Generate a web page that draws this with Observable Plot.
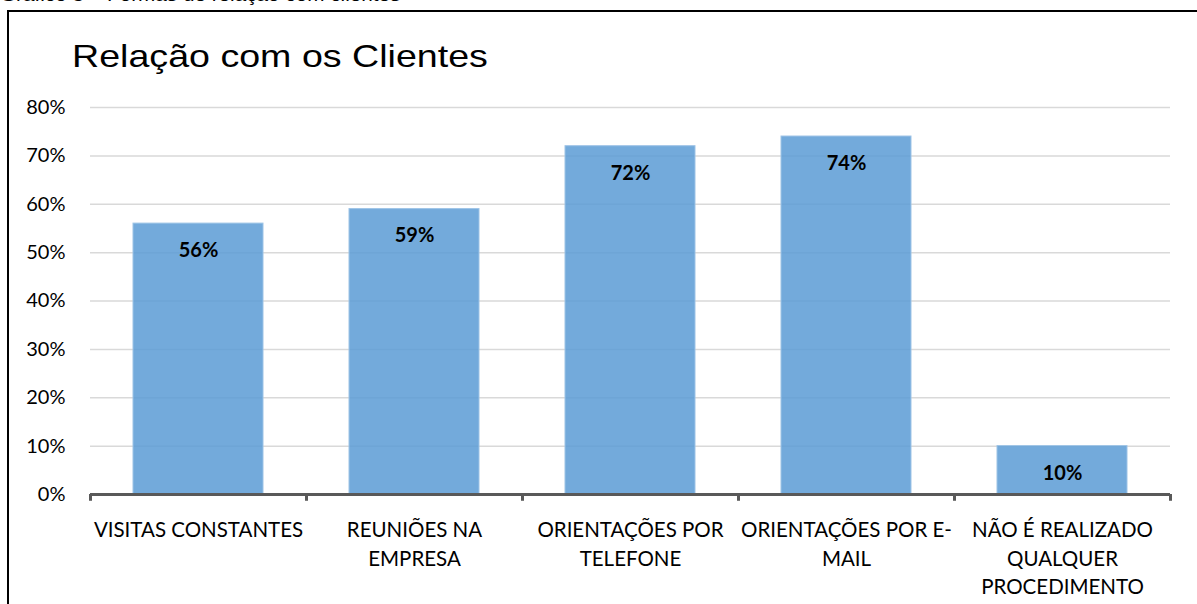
<!DOCTYPE html>
<html>
<head>
<meta charset="utf-8">
<script src="https://cdn.jsdelivr.net/npm/d3@7"></script>
<script src="https://cdn.jsdelivr.net/npm/@observablehq/plot@0.6"></script>
<style>
  html, body { margin: 0; padding: 0; background: #fff; }
  #wrap { position: relative; width: 1197px; height: 604px; overflow: hidden; }
  #caption { position: absolute; left: 0; top: -15.5px; font: 18px "Liberation Sans", Arial, sans-serif; color: #000; white-space: nowrap; transform: scaleX(1.15); transform-origin: left top; }
  #frame { position: absolute; left: 7px; top: 10px; width: 1300px; height: 700px; border-left: 2px solid #000; border-top: 2px solid #000; }
  #title { position: absolute; left: 72px; top: 38px; font: 32px "Liberation Sans", Arial, sans-serif; color: #000; white-space: nowrap; transform: scaleX(1.175); transform-origin: left top; }
  #chart { position: absolute; left: 0; top: 0; }
</style>
</head>
<body>
<div id="wrap">
  <div id="caption">Gráfico 5 – Formas de relação com clientes</div>
  <div id="frame"></div>
  <div id="chart"></div>
  <div id="title">Relação com os Clientes</div>
</div>
<script>
const categories = ["VISITAS CONSTANTES", "REUNIÕES NA EMPRESA", "ORIENTAÇÕES POR TELEFONE", "ORIENTAÇÕES POR E-MAIL", "NÃO É REALIZADO QUALQUER PROCEDIMENTO"];
const categoryLabels = ["VISITAS CONSTANTES", "REUNIÕES NA\nEMPRESA", "ORIENTAÇÕES POR\nTELEFONE", "ORIENTAÇÕES POR E-\nMAIL", "NÃO É REALIZADO\nQUALQUER\nPROCEDIMENTO"];
const values = [0.56, 0.59, 0.72, 0.74, 0.10];
const yTicks = [0, 0.1, 0.2, 0.3, 0.4, 0.5, 0.6, 0.7, 0.8];

const data = categories.map((c, i) => ({cat: c, value: values[i]}));
const labelOf = new Map(categories.map((c, i) => [c, categoryLabels[i]]));

const W = 1197, H = 604;
const mL = 90, mR = 27, mT = 107, mB = 110;
const xs = Plot.scale({x: {type: "band", domain: categories, range: [mL, W - mR], paddingInner: 0.4, paddingOuter: 0.2}});
const half = xs.step / 2;

const chart = Plot.plot({
  width: W,
  height: H,
  marginLeft: mL,
  marginRight: mR,
  marginTop: mT,
  marginBottom: mB,
  style: {fontFamily: "Lato, 'Open Sans', sans-serif", fontSize: "20px", color: "#000", background: "transparent", overflow: "visible"},
  x: {type: "band", domain: categories, paddingInner: 0.4, paddingOuter: 0.2},
  y: {domain: [0, 0.8]},
  marks: [
    Plot.ruleY(yTicks.filter(d => d > 0), {stroke: "#d9d9d9", strokeWidth: 1.5}),
    Plot.barY(data, {x: "cat", y: "value", fill: "#5B9BD5", fillOpacity: 0.85, stroke: "#9DC3E6", strokeWidth: 1}),
    Plot.ruleY([0], {stroke: "#595959", strokeWidth: 3}),
    Plot.ruleX(categories, {x: d => d, y1: 0, y2: -0.014, dx: -half, stroke: "#595959", strokeWidth: 3}),
    Plot.ruleX([categories[categories.length - 1]], {x: d => d, y1: 0, y2: -0.014, dx: half, stroke: "#595959", strokeWidth: 3}),
    Plot.text(data, {x: "cat", y: "value", text: d => Math.round(d.value * 100) + "%", dy: 27, fontWeight: "bold", fontSize: 20, fill: "#000"}),
    Plot.axisY({ticks: yTicks, tickFormat: d => Math.round(d * 100) + "%", tickSize: 0, tickPadding: 25, fontSize: 20, label: null}),
    Plot.axisX({tickSize: 0, tickPadding: 23, tickFormat: d => labelOf.get(d), lineHeight: 1.37, fontSize: 20.5, label: null, textAnchor: "middle"})
  ]
});
document.getElementById("chart").appendChild(chart);
</script>
</body>
</html>
